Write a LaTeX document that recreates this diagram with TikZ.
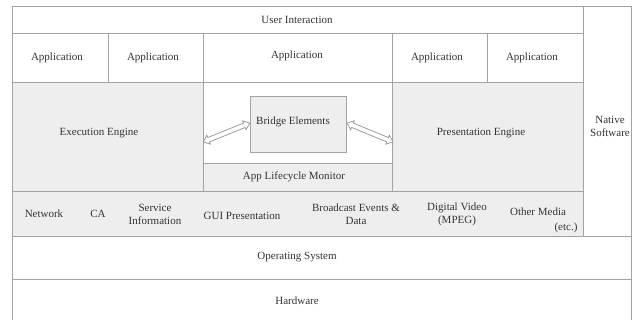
\documentclass[tikz,border=0pt]{standalone}
\usepackage{fontspec}
\setmainfont{Liberation Serif}
\usetikzlibrary{shapes.arrows}
\definecolor{edge}{HTML}{A3A3A3}
\definecolor{shade}{HTML}{EEEEEE}
\definecolor{ink}{HTML}{333333}
\tikzset{
  cell/.style={draw=edge, line width=1pt, fill=white, inner sep=0pt, outer sep=0pt, anchor=north west},
  gcell/.style={cell, fill=shade},
  lbl/.style={text=ink, inner sep=0pt, font=\fontsize{11}{13}\selectfont, align=center},
  dbl/.style={double arrow, draw=gray!85, fill=white, line width=0.7pt, inner xsep=0pt, inner ysep=2pt,
    double arrow head extend=2.5pt, double arrow tip angle=80},
}
\begin{document}
\begin{tikzpicture}[x=1pt,y=-1pt]
\useasboundingbox (0,0) rectangle (634,320);
\begin{scope}
\clip (0,0) rectangle (634,320);
% top rows
\node[cell, minimum width=571pt, minimum height=27pt] (ui) at (12,7) {};
\node[cell, minimum width=48pt, minimum height=230pt] (native) at (583,7) {};
\node[cell, minimum width=96pt, minimum height=49pt] (app1) at (12,34) {};
\node[cell, minimum width=95pt, minimum height=49pt] (app2) at (108,34) {};
\node[cell, minimum width=189pt, minimum height=49pt] (app3) at (203,34) {};
\node[cell, minimum width=95pt, minimum height=49pt] (app4) at (392,34) {};
\node[cell, minimum width=96pt, minimum height=49pt] (app5) at (487,34) {};
% engines
\node[gcell, minimum width=191pt, minimum height=109pt] (exec) at (12,83) {};
\node[cell, minimum width=189pt, minimum height=81pt] (mid) at (203,83) {};
\node[gcell, minimum width=189pt, minimum height=28pt] (alm) at (203,164) {};
\node[gcell, minimum width=191pt, minimum height=109pt] (pres) at (392,83) {};
\node[gcell, minimum width=96pt, minimum height=56pt] (bridge) at (250,97) {};
% media row
\node[gcell, minimum width=571pt, minimum height=45pt] (media) at (12,192) {};
% OS and hardware
\node[cell, minimum width=619pt, minimum height=42pt] (os) at (12,237) {};
\node[cell, minimum width=619pt, minimum height=50pt] (hw) at (12,279) {};
\end{scope}
% arrows
\node[dbl, minimum height=50pt, rotate=22] (ar1) at (226.5,132.5) {};
\node[dbl, minimum height=49.5pt, rotate=-22.4] (ar2) at (370,132.5) {};
% labels
\node[lbl] (tui) at (297,20) {User Interaction};
\node[lbl] (ta1) at (57,58) {Application};
\node[lbl] (ta2) at (153,58) {Application};
\node[lbl] (ta3) at (297,56) {Application};
\node[lbl] (ta4) at (437,58) {Application};
\node[lbl] (ta5) at (532,58) {Application};
\node[lbl] (tex) at (99,133) {Execution Engine};
\node[lbl] (tpr) at (481,133) {Presentation Engine};
\node[lbl] (tbr) at (293,122) {Bridge Elements};
\node[lbl] (tal) at (294,177) {App Lifecycle Monitor};
\node[lbl] (tna) at (610,126) {Native\\Software};
\node[lbl] (tnw) at (44,214) {Network};
\node[lbl] (tca) at (98,214) {CA};
\node[lbl] (tsi) at (155,214.5) {Service\\Information};
\node[lbl] (tgui) at (242,216) {GUI Presentation};
\node[lbl] (tbe) at (356,214.5) {Broadcast Events \&\\Data};
\node[lbl] (tdv) at (457,214.5) {Digital Video\\(MPEG)};
\node[lbl] (tom) at (538,212) {Other Media};
\node[lbl] (tetc) at (566,228) {(etc.)};
\node[lbl] (tos) at (297,257) {Operating System};
\node[lbl] (thw) at (297,301) {Hardware};
\end{tikzpicture}
\end{document}
